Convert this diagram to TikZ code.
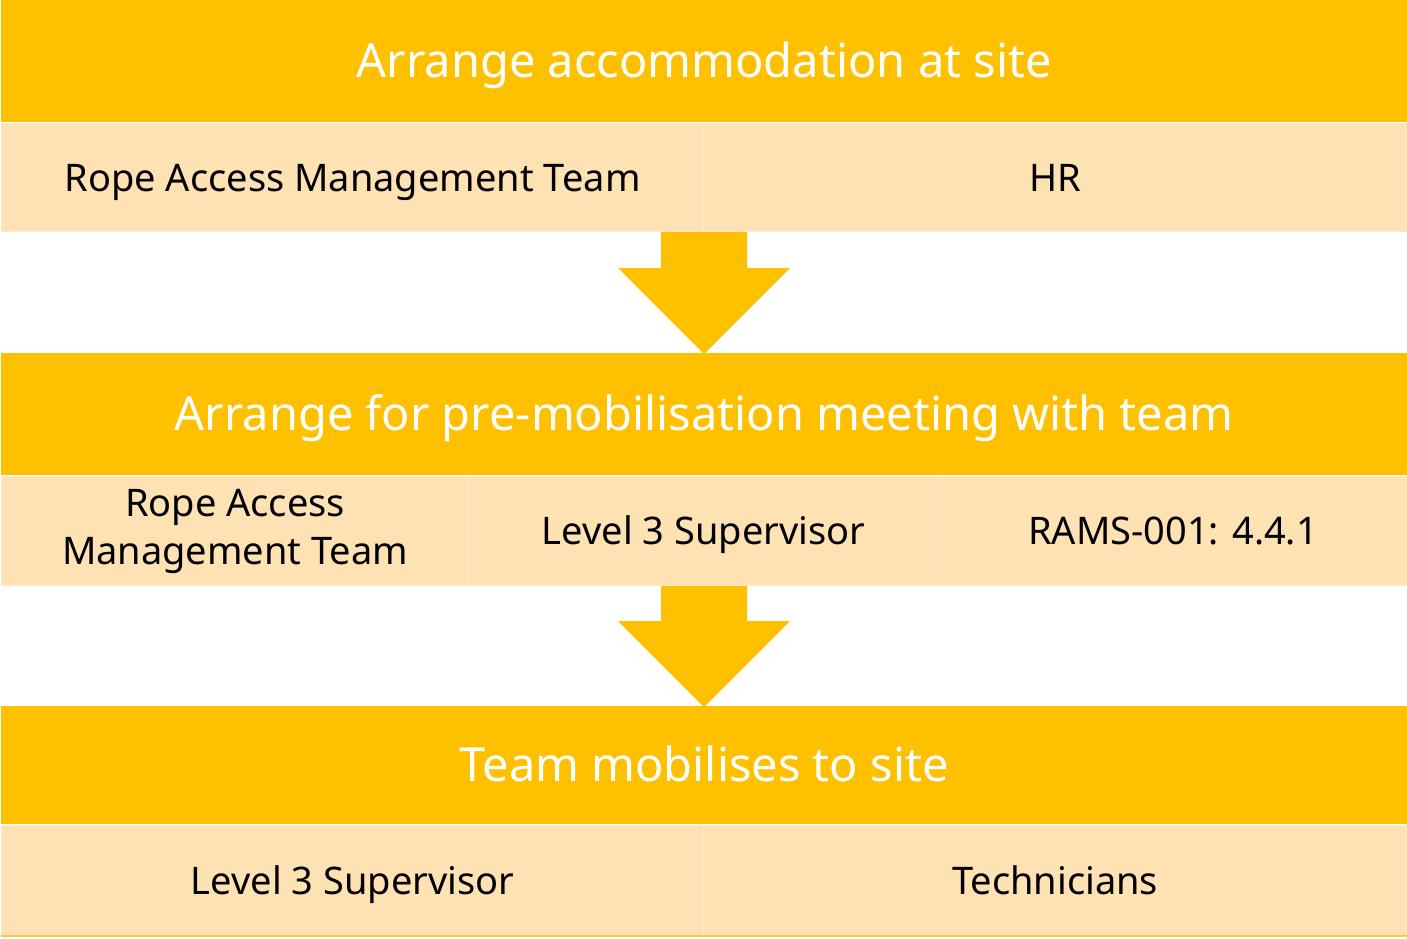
\documentclass[tikz,border=0pt]{standalone}
\usepackage{fontspec}
\setmainfont{Noto Sans}
\definecolor{gold}{HTML}{FFC000}
\definecolor{cream}{HTML}{FFE2B4}
\definecolor{creamline}{HTML}{FFEBCB}
\tikzset{
  band/.style={fill=gold, draw=none, text=white, font=\fontsize{47}{54}\selectfont, text height=38pt, text depth=6pt},
  cell/.style={fill=cream, draw=creamline, line width=1.2pt, text=black, font=\fontsize{38}{48}\selectfont, align=center},
  onecell/.style={cell, text height=36pt, text depth=9pt},
  downarrow/.style={fill=gold, draw=none}
}
\begin{document}
\begin{tikzpicture}[x=1pt,y=-1pt]
\useasboundingbox (0,0) rectangle (1407,938);
% band 1
\node[band, minimum width=1406pt, minimum height=122pt, anchor=north west, inner sep=0pt] (b1) at (1,0) {Arrange accommodation at site};
\node[onecell, minimum width=702pt, minimum height=108pt, anchor=north west, inner sep=0pt] (c11) at (1,123) {Rope Access Management Team};
\node[onecell, minimum width=703pt, minimum height=108pt, anchor=north west, inner sep=0pt] (c12) at (703,123) {HR};
% arrow 1
\fill[downarrow] (661,232) -- (747,232) -- (747,268) -- (790,268) -- (704,354) -- (618,268) -- (661,268) -- cycle;
% band 2
\node[band, minimum width=1406pt, minimum height=122pt, anchor=north west, inner sep=0pt] (b2) at (1,353) {Arrange for pre-mobilisation meeting with team};
\node[cell, minimum width=467pt, minimum height=109pt, anchor=north west, inner sep=0pt] (c21) at (1,476) {Rope Access\\Management Team};
\node[onecell, minimum width=470pt, minimum height=109pt, anchor=north west, inner sep=0pt] (c22) at (468,476) {Level 3 Supervisor};
\node[onecell, minimum width=469pt, minimum height=109pt, anchor=north west, inner sep=0pt] (c23) at (938,476) {RAMS-001: 4.4.1};
% arrow 2
\fill[downarrow] (661,586) -- (747,586) -- (747,621) -- (790,621) -- (704,707) -- (618,621) -- (661,621) -- cycle;
% band 3
\node[band, minimum width=1406pt, minimum height=118pt, anchor=north west, inner sep=0pt] (b3) at (1,706) {Team mobilises to site};
\node[onecell, minimum width=702pt, minimum height=110pt, anchor=north west, inner sep=0pt] (c31) at (1,825) {Level 3 Supervisor};
\node[onecell, minimum width=703pt, minimum height=110pt, anchor=north west, inner sep=0pt] (c32) at (703,825) {Technicians};
\draw[gold!70!cream, line width=2pt] (c31.south west) -- (c32.south east);
\end{tikzpicture}
\end{document}
